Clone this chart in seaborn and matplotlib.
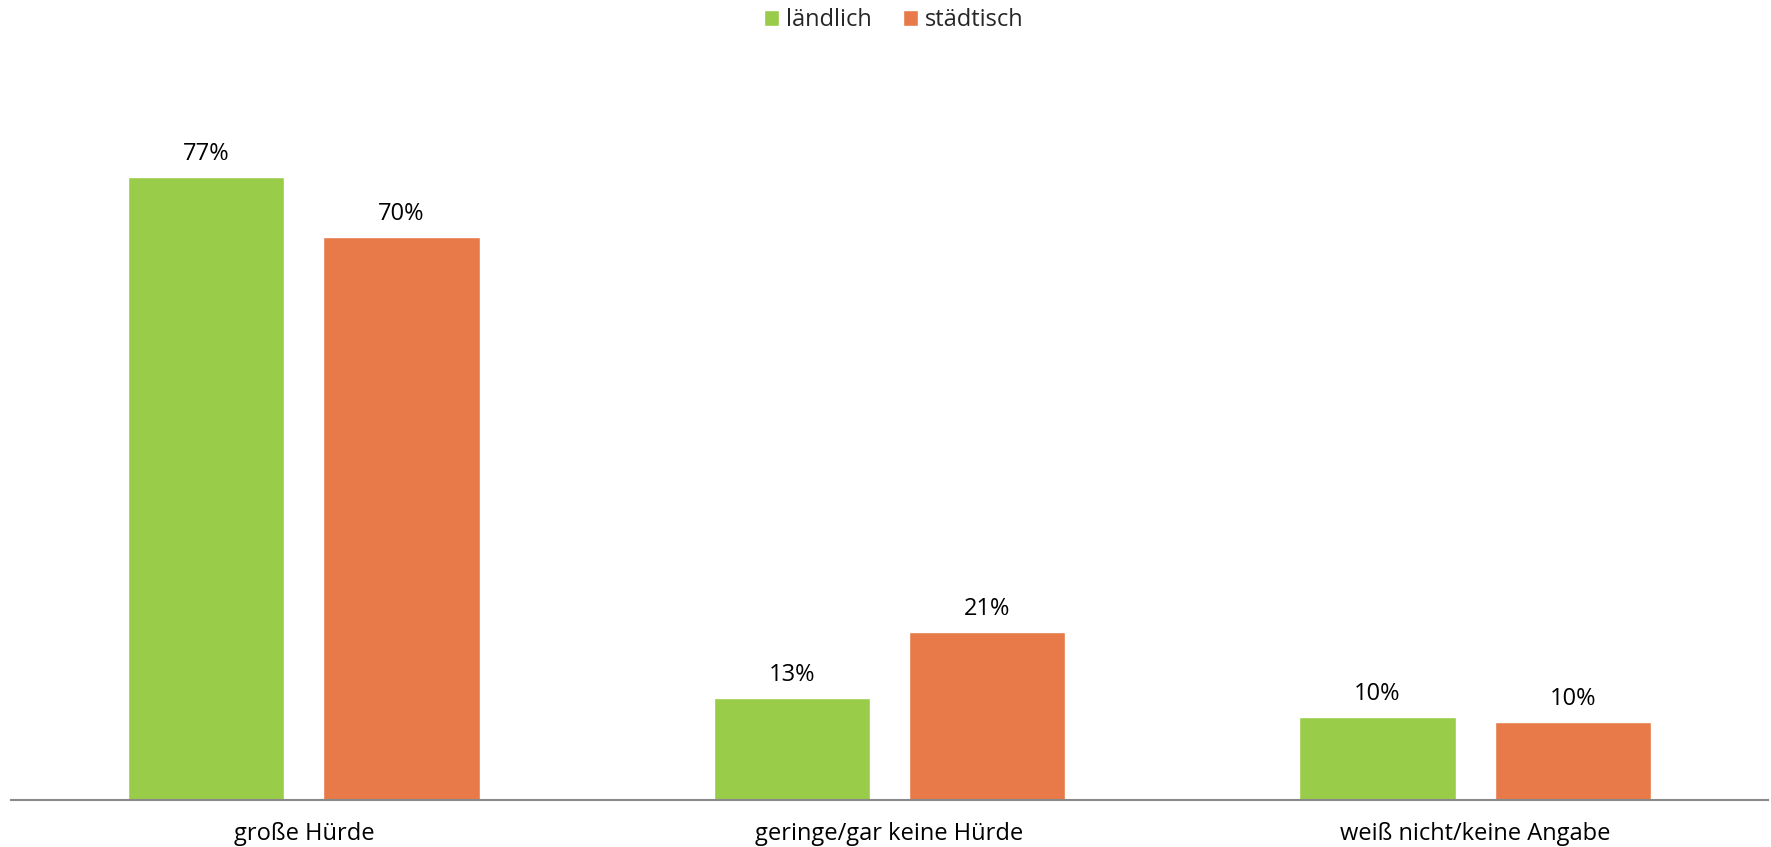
import matplotlib
matplotlib.use("Agg")
import matplotlib.pyplot as plt
import seaborn as sns
import pandas as pd

categories = ["große Hürde", "geringe/gar keine Hürde", "weiß nicht/keine Angabe"]
series_names = ["ländlich", "städtisch"]
laendlich = [77.0, 12.6, 10.3]
staedtisch = [69.6, 20.8, 9.6]
colors = ["#99CC48", "#E77A48"]

sns.set_theme(style="white")
plt.rcParams["font.family"] = ["Open Sans", "DejaVu Sans"]

df = pd.DataFrame({
    "Kategorie": categories * 2,
    "Gruppe": [series_names[0]] * 3 + [series_names[1]] * 3,
    "Wert": laendlich + staedtisch,
})

fig = plt.figure(figsize=(17.71, 8.47), dpi=100)
ax = fig.add_axes([11 / 1771, 47 / 847, 1757 / 1771, 740 / 847])

sns.barplot(data=df, x="Kategorie", y="Wert", hue="Gruppe", order=categories,
            hue_order=series_names, palette=colors, width=0.667, gap=0.2,
            saturation=1, ax=ax, errorbar=None)

ax.set_xlim(-0.5, 2.5)
ax.set_ylim(0, 91.5)
ax.set_xlabel("")
ax.set_ylabel("")
ax.set_yticks([])
for s in ["top", "right", "left"]:
    ax.spines[s].set_visible(False)
ax.spines["bottom"].set_color("#898989")
ax.spines["bottom"].set_linewidth(1.5)
ax.tick_params(axis="x", length=0, pad=16, labelsize=17, labelcolor="#000000")

for cont in ax.containers:
    ax.bar_label(cont, fmt="%.0f%%", padding=8, fontsize=17, color="#000000")

ax.legend(loc="center", bbox_to_anchor=(894 / 1771, 1 - 20 / 847),
          bbox_transform=fig.transFigure, ncol=2, frameon=False, fontsize=17,
          handlelength=0.65, handleheight=0.65, handletextpad=0.3,
          columnspacing=1.3, title=None)

fig.savefig("out.png", dpi=100)
